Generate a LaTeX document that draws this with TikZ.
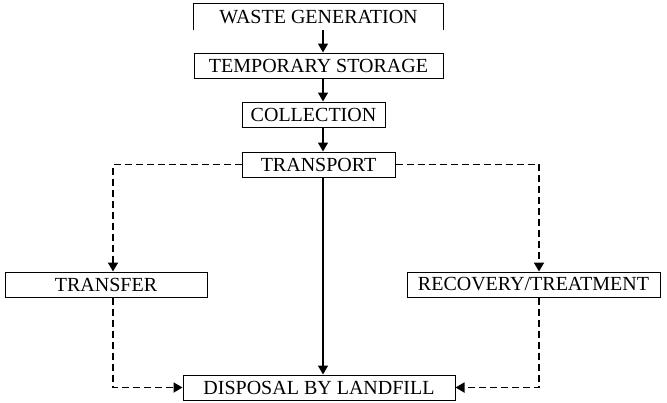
\documentclass[tikz,border=0pt]{standalone}
\usepackage{fontspec}
\setmainfont{Liberation Serif}
\usetikzlibrary{arrows.meta, positioning}

\begin{document}
\begin{tikzpicture}[
        x=0.5pt, y=-0.5pt,
        every node/.style={align=center, font=\fontsize{10}{12}\selectfont, inner sep=1pt},
        box/.style={draw, line width=0.5pt, minimum height=12.5pt},
        link/.style={-{Triangle[width=5pt, length=4.5pt]}, line width=0.7pt},
        dlink/.style={link, line width=0.9pt, dash pattern=on 3.5pt off 2pt}
    ]
    \useasboundingbox (0,0) rectangle (667,402);

    % Main chain
    \coordinate (spine) at (323,0);
    \node[minimum width=124.5pt, minimum height=13pt] (waste) at (318.5,17) {WASTE GENERATION};
    \draw[line width=0.5pt] (waste.south west) |- (waste.north east) -- (waste.south east);
    \node[box, minimum width=124.5pt] (storage) at (318.5,65.5) {TEMPORARY STORAGE};
    \node[box, minimum width=71.5pt] (collect) at (313.5,114.5) {COLLECTION};
    \node[box, minimum width=76.5pt] (transport) at (318.5,164.5) {TRANSPORT};

    \draw[link] (waste.south -| spine) -- (storage.north -| spine);
    \draw[link] (storage.south -| spine) -- (collect.north -| spine);
    \draw[link] (collect.south -| spine) -- (transport.north -| spine);

    % Side branches
    \coordinate (lcol) at (113,0);
    \coordinate (rcol) at (539,0);
    \node[box, minimum width=101pt] (transfer) at (106,284.5) {TRANSFER};
    \node[box, minimum width=126.5pt] (recovery) at (533.5,284.5) {RECOVERY/TREATMENT};

    \draw[dlink] (transport.west) -| (transfer.north -| lcol);
    \draw[dlink] (transport.east) -| (recovery.north -| rcol);

    % Final disposal
    \node[box, minimum width=136pt] (disposal) at (319,387.5) {DISPOSAL BY LANDFILL};

    \draw[link] (transport.south -| spine) -- (disposal.north -| spine);
    \draw[dlink] (transfer.south -| lcol) |- (disposal.west);
    \draw[dlink] (recovery.south -| rcol) |- (disposal.east);

\end{tikzpicture}
\end{document}
